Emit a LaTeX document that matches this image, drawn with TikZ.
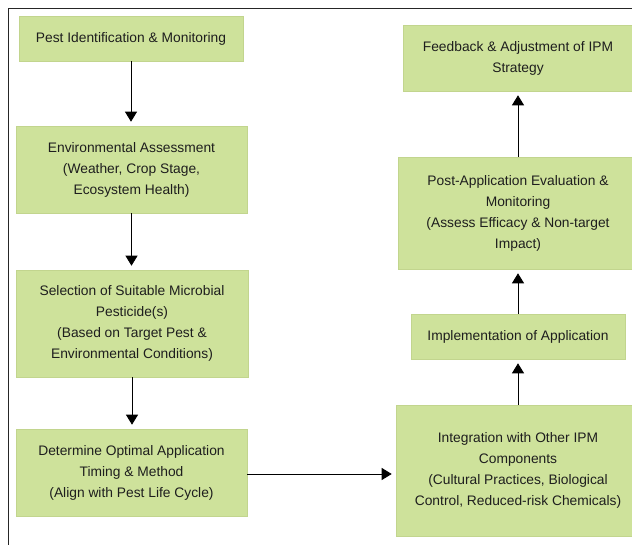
\documentclass[tikz,border=0pt]{standalone}
\usepackage{fontspec}
\setmainfont{Liberation Sans}
\usetikzlibrary{arrows.meta,shadows}
\definecolor{boxfill}{HTML}{CEE29B}
\definecolor{boxline}{HTML}{C2D58E}
\definecolor{txt}{HTML}{1E1E1E}
\tikzset{
  stepbox/.style={draw=boxline, fill=boxfill, line width=0.6pt, align=center,
    text=txt, inner sep=0pt, font=\fontsize{13.8}{21}\selectfont,
    drop shadow={opacity=0.18, shadow xshift=1pt, shadow yshift=-1pt}},
  flow/.style={draw=black, line width=0.8pt, -{Triangle[width=12pt,length=10pt]}, shorten >=4pt}
}
\begin{document}
\begin{tikzpicture}[x=1pt,y=-1pt]
\clip (0,0) rectangle (632,545);
\fill[white] (0,0) rectangle (632,545);
\draw[line width=0.9pt, black!85] (8.5,560) -- (8.5,8.5) -- (640,8.5);

\node[stepbox, minimum width=224pt, minimum height=45pt] (n1) at (131,38.5) {Pest Identification \& Monitoring};
\node[stepbox, minimum width=231pt, minimum height=87pt] (n2) at (131.5,169.5) {Environmental Assessment\\(Weather, Crop Stage,\\Ecosystem Health)};
\node[stepbox, minimum width=232pt, minimum height=107pt] (n3) at (132,323.5) {Selection of Suitable Microbial\\Pesticide(s)\\(Based on Target Pest \&\\Environmental Conditions)};
\node[stepbox, minimum width=231pt, minimum height=87pt] (n4) at (131.5,472.5) {Determine Optimal Application\\Timing \& Method\\(Align with Pest Life Cycle)};
\node[stepbox, minimum width=244pt, minimum height=131pt] (n5) at (518,470.5) {Integration with Other IPM\\Components\\(Cultural Practices, Biological\\Control, Reduced-risk Chemicals)};
\node[stepbox, minimum width=214pt, minimum height=45pt] (n6) at (518,336.5) {Implementation of Application};
\node[stepbox, minimum width=240pt, minimum height=112pt] (n7) at (518,213) {Post-Application Evaluation \&\\Monitoring\\(Assess Efficacy \& Non-target\\Impact)};
\node[stepbox, minimum width=230pt, minimum height=66pt] (n8) at (518,58) {Feedback \& Adjustment of IPM\\Strategy};

\draw[flow] (n1.south) -- (n1.south |- n2.north);
\draw[flow] (n2.south) -- (n2.south |- n3.north);
\draw[flow] (n3.south) -- (n3.south |- n4.north);
\draw[flow] ([yshift=-1.5pt]n4.east) -- ([yshift=-1.5pt]n4.east -| n5.west);
\draw[flow] (n5.north) -- (n5.north |- n6.south);
\draw[flow] (n6.south) ++(0,0) (n6.north) -- (n6.north |- n7.south);
\draw[flow] (n7.north) -- (n7.north |- n8.south);
\end{tikzpicture}
\end{document}
